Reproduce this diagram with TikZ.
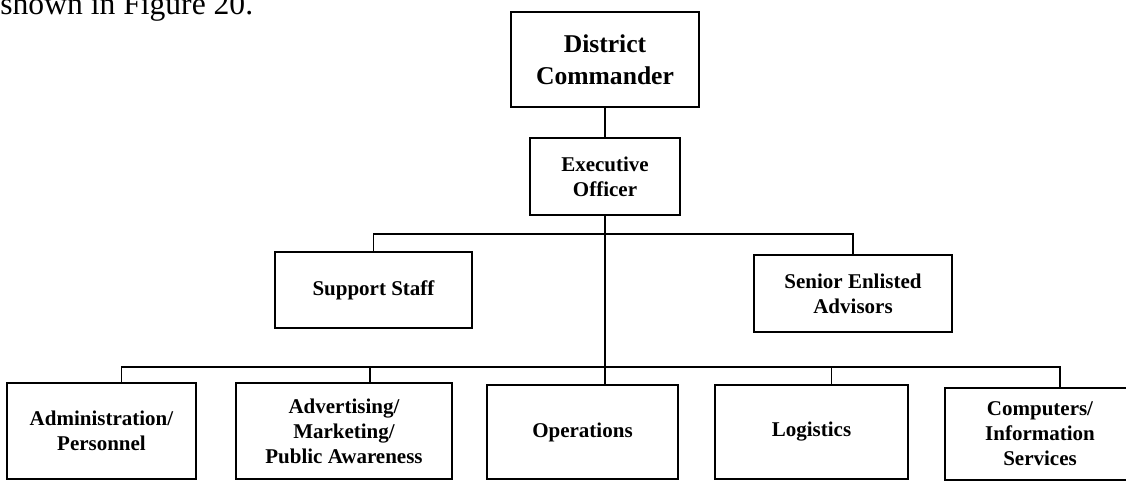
\documentclass[tikz,border=0pt]{standalone}
\usepackage{fontspec}
\setmainfont{Liberation Serif}
\usepackage{tikz}
\usetikzlibrary{positioning}
\tikzstyle{unit} = [rectangle, draw=black, line width=0.8pt, inner sep=2pt, text centered, font=\bfseries\fontsize{10.5}{12.5}\selectfont]
\tikzstyle{chief} = [unit, font=\bfseries\fontsize{12.8}{16}\selectfont]
\tikzstyle{link} = [line width=0.8pt]

\begin{document}
\begin{tikzpicture}
				[x=0.5pt, y=-0.5pt, nodes = {align = center},]

				\clip (0,0) rectangle (1126,483);
				\node (lead) [anchor=base west, inner sep=0pt, font=\fontsize{15.8}{19}\selectfont] at (0,14) {shown in Figure 20.};

				\node (dc) [chief, minimum width=94pt, minimum height=47.5pt] at (605,59.5) {District\\Commander};
				\node (eo) [unit, minimum width=75pt, minimum height=38.5pt] at (605,176.5) {Executive\\Officer};
				\node (ss) [unit, minimum width=98.5pt, minimum height=38pt] at (373.5,290) {Support Staff};
				\node (sea) [unit, minimum width=99pt, minimum height=38.5pt] at (853,293.5) {Senior Enlisted\\Advisors};

				\node (admin) [unit, minimum width=94.5pt, minimum height=48pt] at (101.5,431) {Administration/\\Personnel};
				\node (adv) [unit, minimum width=108pt, minimum height=48pt] at (344,431) {Advertising/\\Marketing/\\Public Awareness};
				\node (ops) [unit, minimum width=95.5pt, minimum height=47pt] at (582.5,432) {Operations};
				\node (log) [unit, minimum width=96.5pt, minimum height=47pt] at (811.5,432) {Logistics};
				\node (comp) [unit, minimum width=95pt, minimum height=46pt] at (1040,434) {Computers/\\Information\\Services};

				\coordinate (staffbus) at (605,234);
				\coordinate (deptbus) at (605,367);

				\draw [link] (dc) -- (eo);
				\draw [link] (eo.south) -- (eo.south |- ops.north);
				\draw [link] (ss.north) |- (staffbus) -| (sea.north);
				\draw [link] ([xshift=10pt]admin.north) |- (deptbus) -| ([xshift=10pt]comp.north);
				\draw [link] ([xshift=13pt]adv.north) -- ([xshift=13pt]adv.north |- deptbus);
				\draw [link] ([xshift=10pt]log.north) -- ([xshift=10pt]log.north |- deptbus);
			\end{tikzpicture}
\end{document}
